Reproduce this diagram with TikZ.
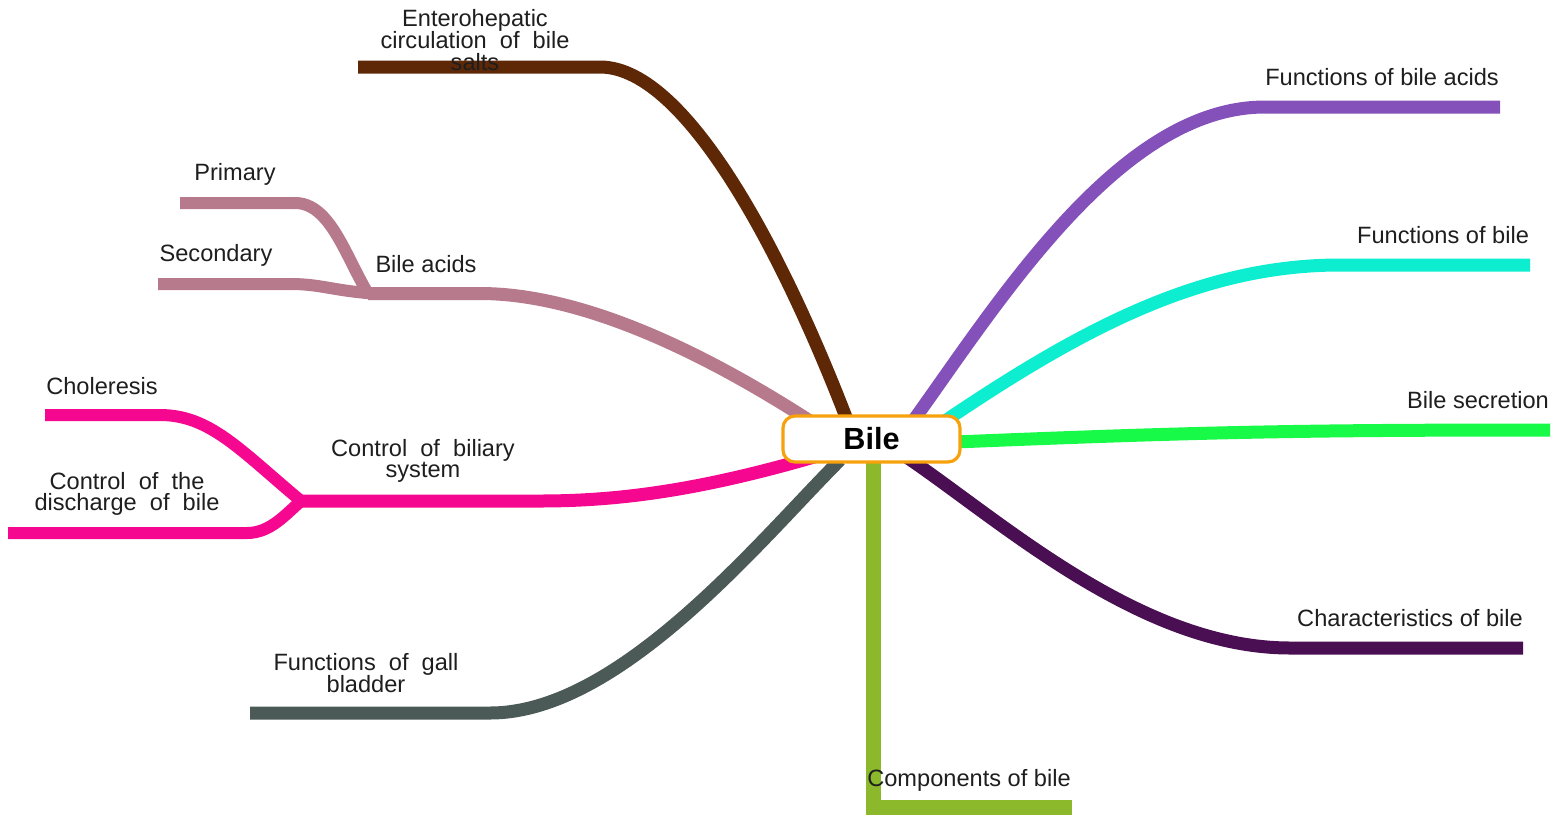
\documentclass[tikz,border=0pt]{standalone}
\usepackage{fontspec}
\setmainfont{Liberation Sans}
\usetikzlibrary{backgrounds}
\definecolor{cbrown}{HTML}{5E2806}
\definecolor{cmauve}{HTML}{B77A8D}
\definecolor{cpink}{HTML}{F5078F}
\definecolor{cgrey}{HTML}{4B5957}
\definecolor{clime}{HTML}{8CB82B}
\definecolor{cplum}{HTML}{4A0F52}
\definecolor{cgreen}{HTML}{18FA48}
\definecolor{ccyan}{HTML}{0DEED0}
\definecolor{cviolet}{HTML}{8450B9}
\definecolor{corange}{HTML}{F7A20C}
\definecolor{ctext}{HTML}{1E1E1E}
\newcommand\mylblfont{\fontsize{11.8}{10.8}\selectfont\setlength{\lineskiplimit}{-100pt}}
\begin{document}
\begin{tikzpicture}[x=0.5pt,y=-0.5pt,
  lbl/.style={text=ctext,inner sep=0pt,align=center,font=\mylblfont},
  branch/.style={line width=6.5pt,line cap=butt},
  sub/.style={line width=6pt,line cap=butt},
  hub/.style={draw=corange,line width=1.6pt,rounded corners=6pt,fill=white,
    minimum width=88.5pt,minimum height=23pt,inner sep=0pt,
    font=\fontsize{15.3}{16}\selectfont\bfseries}]
\useasboundingbox (0,0) rectangle (1553,814);

% central node
\node[hub] (bile) at (871.5,439) {Bile};

% labels
\node[lbl] (lent) at (475,40) {Enterohepatic\\circulation\ \ of\ \ bile\\salts};
\node[lbl] (lprim) at (235,174) {Primary};
\node[lbl] (lsec) at (216,255) {Secondary};
\node[lbl] (lacid) at (426,264) {Bile acids};
\node[lbl] (lchol) at (102,386) {Choleresis};
\node[lbl] (ldis) at (127,494) {Control\ \ of\ \ the\\discharge\ \ of\ \ bile};
\node[lbl] (lctl) at (423,461) {Control\ \ of\ \ biliary\\system};
\node[lbl] (lgall) at (366,673) {Functions\ \ of\ \ gall\\bladder};
\node[lbl] (lcomp) at (969,780) {Components of bile};
\node[lbl] (lchar) at (1410,618) {Characteristics of bile};
\node[lbl] (lsecr) at (1478,400) {Bile secretion};
\node[lbl] (lfob) at (1443,235) {Functions of bile};
\node[lbl] (lfba) at (1382,77) {Functions of bile acids};

% coordinates
\coordinate (s1) at (849,425);
\coordinate (e1a) at (600,67);  \coordinate (e1) at (358,67);
\coordinate (s2) at (810,421);
\coordinate (j2) at (480,293.5); \coordinate (k2) at (368,293.5);
\coordinate (p2a) at (295,203); \coordinate (p2) at (180,203);
\coordinate (q2a) at (290,284); \coordinate (q2) at (158,284);
\coordinate (s3) at (814,457);
\coordinate (j3) at (540,501); \coordinate (k3) at (293,501);
\coordinate (p3a) at (160,415); \coordinate (p3) at (45,415);
\coordinate (q3a) at (247,533); \coordinate (q3) at (8,533);
\coordinate (s4) at (840,460);
\coordinate (e4a) at (490,713); \coordinate (e4) at (250,713);
\coordinate (s5) at (873.5,455);
\coordinate (e5a) at (873.5,807); \coordinate (e5) at (1072,807);
\coordinate (s6) at (905,456);
\coordinate (e6a) at (1290,648); \coordinate (e6) at (1523,648);
\coordinate (s7) at (955,442);
\coordinate (e7) at (1550,430);
\coordinate (s8) at (945,421);
\coordinate (e8a) at (1340,265); \coordinate (e8) at (1530,265);
\coordinate (s9) at (913,421);
\coordinate (e9a) at (1265,107); \coordinate (e9) at (1500,107);

\begin{scope}[on background layer]
\draw[branch,cbrown] (s1) .. controls (790,270) and (690,67) .. (e1a) -- (e1);
\draw[branch,cmauve] (s2) .. controls (700,350) and (580,293.5) .. (j2) -- (k2);
\draw[sub,cmauve] (k2) .. controls (345,255) and (330,203) .. (p2a) -- (p2);
\draw[sub,cmauve] ([xshift=2pt]k2) .. controls (330,290) and (320,284) .. (q2a) -- (q2);
\draw[branch,cpink] (s3) .. controls (700,490) and (620,501) .. (j3) -- (k3);
\draw[sub,cpink] ([xshift=4pt]k3) .. controls (240,450) and (210,415) .. (p3a) -- (p3);
\draw[sub,cpink] ([xshift=4pt]k3) .. controls (285,515) and (270,533) .. (q3a) -- (q3);
\draw[branch,cgrey] (s4) .. controls (760,540) and (620,713) .. (e4a) -- (e4);
\draw[line width=7.5pt,clime,line join=miter] (s5) -- (e5a) -- (e5);
\draw[branch,cplum] (s6) .. controls (1000,520) and (1140,648) .. (e6a) -- (e6);
\draw[branch,cgreen] (s7) .. controls (1200,432) and (1300,430) .. (e7);
\draw[branch,ccyan] (s8) .. controls (1080,330) and (1200,265) .. (e8a) -- (e8);
\draw[branch,cviolet] (s9) .. controls (1000,300) and (1120,107) .. (e9a) -- (e9);
\end{scope}
\end{tikzpicture}
\end{document}
